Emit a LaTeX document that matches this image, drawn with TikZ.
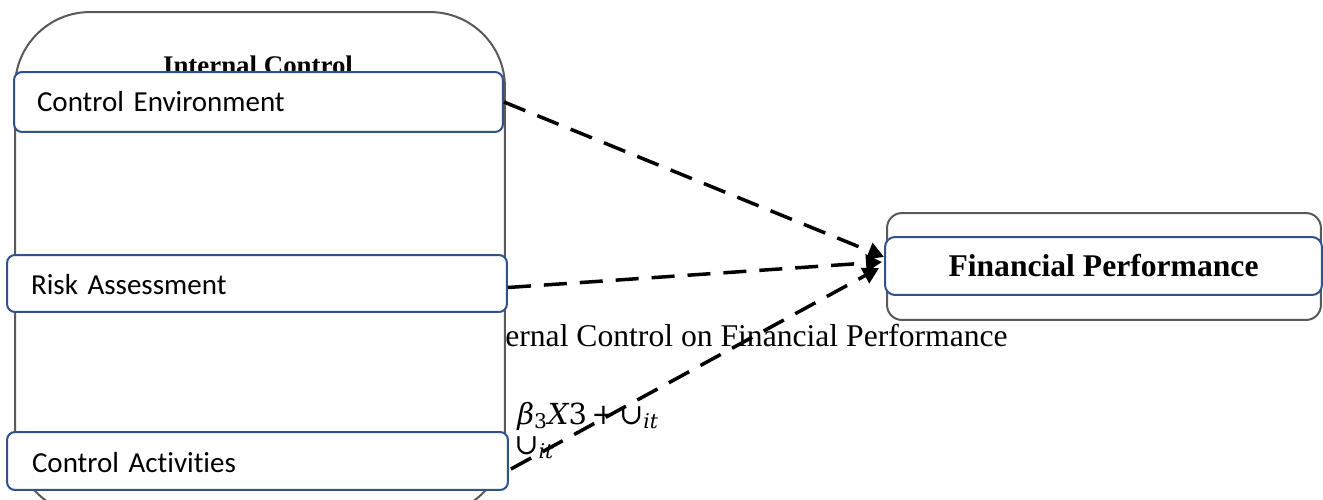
\documentclass[tikz,border=0pt]{standalone}
\usepackage{fontspec}
\setmainfont{Liberation Serif}
\newfontfamily\carlito[Ligatures=NoCommon]{Carlito}
\newfontfamily\eqfont{DejaVu Serif}
\usetikzlibrary{arrows.meta,calc}
\definecolor{boxblue}{RGB}{47,82,143}
\definecolor{framegray}{RGB}{89,89,89}
\tikzset{
  frame/.style={draw=framegray, line width=0.04cm, fill=white, inner sep=0pt},
  itembox/.style={draw=boxblue, line width=0.04cm, fill=white, rounded corners=0.16cm,
    inner ysep=0pt, align=left, font=\carlito\fontsize{16.5pt}{19pt}\selectfont},
  plain/.style={inner sep=0pt, font=\fontsize{18pt}{21pt}\selectfont},
  eqtext/.style={inner sep=0pt, font=\eqfont\fontsize{16.5pt}{19pt}\selectfont},
  link/.style={line width=0.07cm, dash pattern=on 0.46cm off 0.26cm,
    -{Triangle[length=0.32cm,width=0.34cm]}}
}
\begin{document}
\begin{tikzpicture}[x=0.02cm,y=-0.02cm]
\useasboundingbox (0,0) rectangle (1323,500);
\clip (0,0) rectangle (1323,500);
% partially covered background texts
\node[plain, anchor=base west] (cap) at (505,346) {ernal Control on Financial Performance};
\node[eqtext, anchor=base west] (eq1) at (517,424) {\itshape β\textsubscript{\upshape 3}X\upshape 3\hspace{2.5pt}+\hspace{2pt}∪\textsubscript{\itshape it}};
\node[eqtext, anchor=base west] (eq2) at (514,454) {∪\textsubscript{\itshape it}};
% container
\node[frame, rounded corners=1.5cm, minimum width=9.8cm, minimum height=10.06cm] (ic) at (260,263.5) {};
\node[plain, anchor=base, font=\bfseries\fontsize{15.3pt}{18pt}\selectfont] (ictitle) at (258,75) {Internal Control};
% items
\node[itembox, inner xsep=0.46cm, text width=8.86cm, minimum height=1.2cm] (ce) at (258.5,102) {Control Environment};
\node[itembox, inner xsep=0.48cm, text width=9.04cm, minimum height=1.14cm, text height=13pt] (ra) at (257,283.5) {Risk Assessment};
\node[itembox, inner xsep=0.5cm, text width=9.02cm, minimum height=1.16cm, text height=13pt] (ca) at (257.5,461) {Control Activities};
% financial performance
\node[frame, rounded corners=0.3cm, minimum width=8.68cm, minimum height=2.14cm] (fpo) at (1104,266.5) {};
\node[draw=boxblue, line width=0.04cm, fill=white, rounded corners=0.2cm, inner sep=0pt,
  minimum width=8.74cm, minimum height=1.16cm, font=\bfseries\fontsize{18pt}{21pt}\selectfont] (fp) at (1103.5,266) {Financial Performance};
% arrows
\coordinate (t1) at (884,257);
\coordinate (t2) at (882,262);
\coordinate (t3) at (879,268);
\draw[link] (ce.east) -- (t1);
\draw[link] ($(ra.east)+(0,4)$) -- (t2);
\draw[link] ($(ca.east)+(2,8)$) -- (t3);
\end{tikzpicture}
\end{document}
